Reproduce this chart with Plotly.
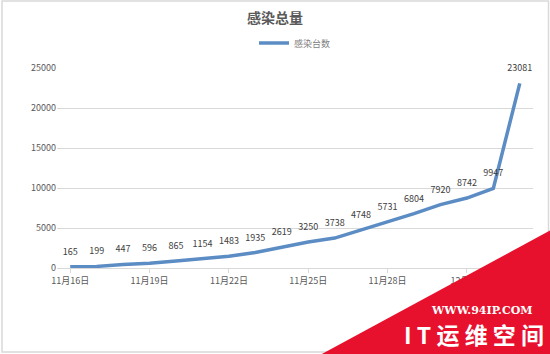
import plotly.graph_objects as go

dates = ["11月16日", "11月17日", "11月18日", "11月19日", "11月20日", "11月21日",
         "11月22日", "11月23日", "11月24日", "11月25日", "11月26日", "11月27日",
         "11月28日", "11月29日", "11月30日", "12月1日", "12月2日", "12月3日"]
infected = [165, 199, 447, 596, 865, 1154, 1483, 1935, 2619, 3250, 3738, 4748,
            5731, 6804, 7920, 8742, 9947, 23081]
tick_dates = dates[::3]
y_ticks = [0, 5000, 10000, 15000, 20000, 25000]
y_tick_text = [str(v) for v in y_ticks]

W, H = 550, 354
L, R, T, B = 57, 17, 68, 86
pw, ph = W - L - R, H - T - B


def px(x):
    return (x - L) / pw


def py(y):
    return (H - B - y) / ph


FONT = "Noto Sans CJK SC, Noto Sans, sans-serif"
LINE = dict(color="#5b8cc4", width=3.5)

fig = go.Figure()
fig.add_trace(go.Scatter(
    x=dates, y=infected, mode="lines+markers+text", name="感染台数",
    line=LINE, showlegend=False,
    marker=dict(size=14, opacity=0, color="#5b8cc4"),
    text=[str(v) for v in infected], textposition="top center",
    textfont=dict(size=9, color="#404040", family=FONT),
    cliponaxis=False,
))
fig.add_trace(go.Scatter(
    x=[None], y=[None], mode="lines", name="感染台数", line=LINE, showlegend=True,
))

shapes = [
    dict(type="rect", xref="paper", yref="paper",
         x0=px(2), x1=px(548.5), y0=py(352), y1=py(1),
         line=dict(color="#d9d9d9", width=1.5), layer="below"),
    dict(type="path", xref="paper", yref="paper",
         path=f"M {px(320)},{py(355)} L {px(551)},{py(230)} L {px(551)},{py(355)} Z",
         fillcolor="#e8112d", line=dict(width=0), layer="above"),
]

annotations = [
    dict(text="<b>WWW.94IP.COM</b>", xref="paper", yref="paper",
         x=px(481), y=py(310), showarrow=False,
         font=dict(size=11, color="white", family="DejaVu Serif, serif"),
         xanchor="center", yanchor="middle"),
    dict(text="<b>I T 运 维 空 间</b>", xref="paper", yref="paper",
         x=px(474), y=py(334), showarrow=False,
         font=dict(size=23, color="white", family=FONT),
         xanchor="center", yanchor="middle"),
]

fig.update_layout(
    width=W, height=H,
    margin=dict(l=L, r=R, t=T, b=B),
    paper_bgcolor="white", plot_bgcolor="white",
    title=dict(text="<b>感染总量</b>", x=0.5, xanchor="center",
               y=1 - 18 / H, yanchor="middle",
               font=dict(size=14, color="#595959", family=FONT)),
    showlegend=True,
    legend=dict(orientation="h", x=0.5, xanchor="center", y=py(43), yanchor="middle",
                font=dict(size=9, color="#7f7f7f", family=FONT),
                itemwidth=30, bgcolor="rgba(0,0,0,0)"),
    font=dict(family=FONT, color="#595959"),
    xaxis=dict(type="category", range=[-0.5, len(dates) - 0.5],
               tickmode="array", tickvals=tick_dates, ticktext=tick_dates,
               showgrid=False, showline=True, linecolor="#d9d9d9", linewidth=1,
               ticks="outside", ticklen=4, tickcolor="#d9d9d9",
               tickfont=dict(size=9, color="#595959", family=FONT)),
    yaxis=dict(range=[0, 25000], tickmode="array", tickvals=y_ticks,
               ticktext=y_tick_text,
               showgrid=True, gridcolor="#d9d9d9", gridwidth=1,
               zeroline=False, showline=False, ticks="",
               tickfont=dict(size=9, color="#595959", family=FONT)),
    shapes=shapes, annotations=annotations,
)

fig.write_html("out.html")
